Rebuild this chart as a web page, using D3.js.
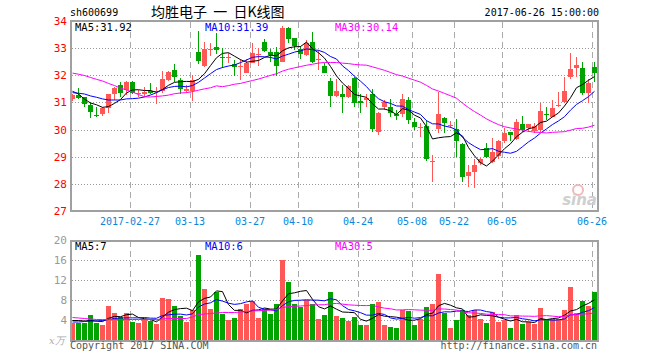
<!DOCTYPE html>
<html><head><meta charset="utf-8">
<script src="https://cdn.jsdelivr.net/npm/d3@7/dist/d3.min.js"></script>
<style>
body{margin:0;background:#fff;}
svg{display:block;}
text{font-family:"DejaVu Sans Mono",monospace;font-size:10px;}
</style></head><body>
<svg id="chart" width="660" height="360"></svg>
<script>
const dates = [
"2017-02-13","2017-02-14","2017-02-15","2017-02-16","2017-02-17",
"2017-02-20","2017-02-21","2017-02-22","2017-02-23","2017-02-24",
"2017-02-27","2017-02-28","2017-03-01","2017-03-02","2017-03-03",
"2017-03-06","2017-03-07","2017-03-08","2017-03-09","2017-03-10",
"2017-03-13","2017-03-14","2017-03-15","2017-03-16","2017-03-17",
"2017-03-20","2017-03-21","2017-03-22","2017-03-23","2017-03-24",
"2017-03-27","2017-03-28","2017-03-29","2017-03-30","2017-03-31",
"2017-04-05","2017-04-06","2017-04-07",
"2017-04-10","2017-04-11","2017-04-12","2017-04-13","2017-04-14",
"2017-04-17","2017-04-18","2017-04-19","2017-04-20","2017-04-21",
"2017-04-24","2017-04-25","2017-04-26","2017-04-27","2017-04-28",
"2017-05-02","2017-05-03","2017-05-04","2017-05-05",
"2017-05-08","2017-05-09","2017-05-10","2017-05-11","2017-05-12","2017-05-15","2017-05-16",
"2017-05-22","2017-05-23","2017-05-24","2017-05-25","2017-05-26",
"2017-05-31","2017-06-01","2017-06-02",
"2017-06-05","2017-06-06","2017-06-07","2017-06-08","2017-06-09",
"2017-06-12","2017-06-13","2017-06-14","2017-06-15","2017-06-16",
"2017-06-19","2017-06-20","2017-06-21","2017-06-22","2017-06-23",
"2017-06-26"];

const open = [31.13,31.27,31.19,30.90,30.55,30.59,30.81,31.32,31.63,31.46,
31.75,31.31,31.32,31.42,31.40,31.42,31.83,32.19,31.83,31.42,
31.43,32.85,32.34,32.93,33.05,32.66,32.62,32.42,32.30,32.10,
32.46,32.78,33.21,32.86,32.86,32.50,33.73,33.36,32.96,32.75,
33.21,32.57,32.34,31.79,31.24,31.31,31.19,31.89,31.05,31.09,
31.31,29.92,30.82,30.82,30.57,30.57,31.09,30.29,30.06,30.13,
28.81,30.03,30.44,30.12,30.01,29.47,28.30,28.44,28.76,29.31,
28.79,29.04,29.59,29.90,29.64,30.21,30.05,29.96,29.98,30.58,
30.48,30.88,31.03,31.92,32.26,32.26,31.34,32.29];
const high = [31.30,31.52,31.21,31.03,30.82,30.82,31.31,31.58,31.77,31.79,
31.79,31.46,31.58,31.73,31.58,32.17,32.17,32.43,31.89,31.64,
32.01,33.63,33.24,33.20,33.57,32.99,32.81,32.56,32.59,32.59,
33.20,32.99,33.32,32.96,33.03,33.82,33.77,33.36,33.08,33.30,
33.58,32.93,32.46,31.91,31.85,31.64,31.64,31.92,31.31,31.31,
31.48,30.65,31.09,31.11,30.72,31.31,31.21,30.41,30.23,30.35,
29.06,31.40,30.48,30.30,30.38,29.52,28.68,28.90,28.94,29.52,
29.68,29.62,30.05,29.92,30.38,30.50,30.21,30.23,30.99,30.82,
31.09,31.40,31.95,32.83,32.69,32.49,31.85,32.50];
const low = [31.07,31.14,30.82,30.44,30.48,30.50,30.62,31.09,31.19,31.29,
31.31,31.19,31.19,31.31,30.93,31.34,31.80,31.76,31.31,31.36,
31.06,32.40,32.32,32.71,32.78,32.26,32.46,31.97,31.83,32.07,
32.44,32.35,32.87,32.50,31.97,32.48,33.18,32.93,32.59,32.72,
32.44,32.19,32.07,30.82,31.19,30.62,31.15,30.82,30.60,30.82,
29.92,29.80,30.72,30.48,30.35,30.48,30.21,29.98,29.74,28.85,
28.08,29.86,29.89,30.05,28.98,28.08,27.87,27.83,28.69,28.94,
28.76,28.92,29.52,29.59,29.62,29.92,29.90,29.86,29.92,30.35,
30.45,30.82,30.99,31.85,31.92,31.27,30.99,31.76];
const close = [31.27,31.17,30.93,30.66,30.54,30.79,31.31,31.53,31.36,31.75,
31.35,31.35,31.38,31.36,31.43,31.86,32.13,31.92,31.48,31.48,
31.83,32.54,32.96,32.97,32.93,32.64,32.66,32.32,32.33,32.46,
32.81,32.80,32.89,32.74,32.35,33.73,33.34,33.09,32.78,33.18,
32.50,32.60,32.10,31.25,31.43,31.19,31.61,30.99,30.97,31.18,
30.02,30.62,31.00,30.62,30.50,31.11,30.35,30.08,30.09,28.90,
28.85,30.57,30.23,30.16,29.59,28.27,28.44,28.70,28.90,28.98,
29.16,29.58,29.86,29.80,30.29,29.98,30.21,30.13,30.70,30.53,
30.78,30.91,31.42,32.22,32.38,31.36,31.70,32.10];
const volume = [3.5,3.5,3.5,5.0,3.4,3.0,6.8,5.4,4.7,5.4,
3.6,3.4,4.2,3.8,3.2,8.4,8.2,6.8,4.8,3.6,
6.0,17.0,10.2,6.2,9.7,5.3,4.0,4.4,6.3,7.2,
7.8,4.4,6.3,5.2,7.2,16.0,11.6,7.2,6.7,8.0,
7.2,4.2,5.0,9.6,4.8,4.4,3.9,4.6,3.0,3.0,
7.2,7.6,3.0,2.6,2.4,6.0,5.8,3.0,4.2,6.6,
7.2,13.2,5.4,2.4,4.0,6.0,5.0,6.0,4.2,3.4,
5.6,3.6,4.0,2.4,5.0,3.2,3.6,3.2,6.4,4.0,
4.2,4.2,6.0,10.6,5.4,7.8,6.8,9.6];

// moving-average values at the left edge (their history lies before the window)
const ma5Head = [31.41,31.31,31.12,30.98];
const ma10Head = [31.36,31.34,31.31,31.24,31.19,31.13,31.09,31.09,31.09];
const ma30Head = [32.08,32.04,31.99,31.92,31.85,31.79,31.70,31.62,31.53,31.46,
31.38,31.29,31.21,31.20,31.22,31.24,31.27,31.32,31.35,31.36,
31.40,31.45,31.50,31.54,31.61,31.58,31.62,31.67,31.70];
const vma5Head = [3.9,3.9,3.8,3.9];
const vma10Head = [3.6,3.6,3.7,3.8,3.8,3.9,4.1,4.3,4.4];
const vma30Head = [4.5,4.4,4.3,4.2,4.1,4.1,4.1,4.1,4.1,4.1,
4.1,4.1,4.1,4.1,4.1,4.2,4.3,4.3,4.3,4.3,
4.6,5.1,5.2,5.3,5.4,5.5,5.5,5.5,5.6];

const priceTicks = [27,28,29,30,31,32,33,34];
const volTicks = [4,8,12,16,20];
const dateTicks = ["2017-02-27","2017-03-13","2017-03-27","2017-04-10","2017-04-24","2017-05-08","2017-05-22","2017-06-05","2017-06-26"];
const dateTickLabels = ["2017-02-27","03-13","03-27","04-10","04-24","05-08","05-22","06-05","06-26"];

const stockCode = "sh600699";
const title = "均胜电子 一 日K线图";
const stamp = "2017-06-26 15:00:00";
const priceLegend = ["MA5:31.92","MA10:31.39","MA30:30.14"];
const volLegend = ["MA5:7","MA10:6","MA30:5"];

const RED = "#ff5656", GREEN = "#00a300";
const MA_COLORS = ["#000000","#0000ff","#ff00ff"];

function movingAvg(vals, n, head){
  return vals.map((v,i)=>{
    if(i < n-1) return head[i];
    let s = 0; for(let k=i-n+1;k<=i;k++) s += vals[k];
    return s/n;
  });
}

const svg = d3.select("#chart");
const L = 70, R = 597;
const x = d3.scaleBand().domain(dates).range([L, R]).paddingInner(1/6).paddingOuter(0);
const bw = x.bandwidth();
const y = d3.scaleLinear().domain([27,34]).range([211,21]);
const vy = d3.scaleLinear().domain([0,20]).range([340,240]);
const cx = d => x(d) + bw/2;

// header
svg.append("text").attr("x",70).attr("y",16).attr("fill","#000").text(stockCode);
svg.append("text").attr("x",151).attr("y",17).attr("fill","#000")
  .style("font-family","'Noto Sans CJK SC',sans-serif").style("font-size","14px").attr("xml:space","preserve")
  .style("white-space","pre").text(title.replace(/ /g,"  "));
svg.append("text").attr("x",599).attr("y",16).attr("text-anchor","end").attr("fill","#000").text(stamp);

function panel(yScale, ticks, top, bottom){
  const g = svg.append("g");
  g.selectAll("line.h").data(ticks.filter(t=>yScale(t)>top+2 && yScale(t)<bottom-2)).join("line")
    .attr("x1",L+2).attr("x2",R).attr("y1",d=>Math.round(yScale(d))+0.5).attr("y2",d=>Math.round(yScale(d))+0.5)
    .attr("stroke","#999").attr("stroke-dasharray","1,2");
  g.selectAll("line.v").data(dateTicks).join("line")
    .attr("x1",d=>x(d)+0.5).attr("x2",d=>x(d)+0.5).attr("y1",top+1).attr("y2",bottom)
    .attr("stroke","#aaa").attr("stroke-dasharray","6,4");
  return g;
}
panel(y, priceTicks, 21, 211);
panel(vy, volTicks, 240, 341);

// price axis labels
const ya = svg.append("g").attr("transform",`translate(${L},0)`)
  .call(d3.axisLeft(y).tickValues(priceTicks).tickSize(0).tickPadding(3).tickFormat(d3.format("d")));
ya.select(".domain").remove();
ya.selectAll("text").attr("fill","#ff0000").style("font-family","'DejaVu Sans Mono',monospace").style("font-size","11px");

// volume axis labels
const va = svg.append("g").attr("transform",`translate(${L},0)`)
  .call(d3.axisLeft(vy).tickValues(volTicks).tickSize(0).tickPadding(3).tickFormat(d3.format("d")));
va.select(".domain").remove();
va.selectAll("text").attr("fill","#999").style("font-family","'DejaVu Sans Mono',monospace").style("font-size","11px");

// date axis
const xa = svg.append("g").attr("transform",`translate(${-bw/2},211)`)
  .call(d3.axisBottom(x).tickValues(dateTicks).tickSize(0).tickPadding(7)
    .tickFormat(d=>dateTickLabels[dateTicks.indexOf(d)]));
xa.select(".domain").remove();
xa.selectAll("text").attr("fill","#0a86d8").style("font-family","'DejaVu Sans Mono',monospace").style("font-size","10px");

// watermark
const wm = svg.append("g");
wm.append("circle").attr("cx",578).attr("cy",190).attr("r",5).attr("fill","none").attr("stroke","#f4b8b8").attr("stroke-width",2);
wm.append("text").attr("x",597).attr("y",205).attr("text-anchor","end")
  .style("font-family","'DejaVu Sans',sans-serif").style("font-size","15px").style("font-style","italic").style("font-weight","bold")
  .attr("fill","#cfcfcf").text("sina");

// candles
const cg = svg.append("g");
dates.forEach((d,i)=>{
  const o=open[i], c=close[i], h=high[i], l=low[i];
  const col = c >= o ? RED : GREEN;
  cg.append("line").attr("x1",cx(d)).attr("x2",cx(d))
    .attr("y1",Math.round(y(h))).attr("y2",Math.round(y(l))).attr("stroke",col).attr("stroke-width",1);
  const yt = Math.round(y(Math.max(o,c))), yb = Math.round(y(Math.min(o,c)));
  cg.append("rect").attr("x",x(d)).attr("y",yt).attr("width",bw).attr("height",Math.max(1,yb-yt))
    .attr("fill",col).attr("shape-rendering","crispEdges");
});

// volume bars
svg.append("g").selectAll("rect").data(dates).join("rect")
  .attr("x",d=>x(d)).attr("width",bw)
  .attr("y",(d,i)=>Math.round(vy(volume[i]))).attr("height",(d,i)=>340-Math.round(vy(volume[i])))
  .attr("fill",(d,i)=>close[i]>=open[i]?RED:GREEN).attr("shape-rendering","crispEdges");

// MA lines
const pMAs = [movingAvg(close,5,ma5Head), movingAvg(close,10,ma10Head), movingAvg(close,30,ma30Head)];
const vMAs = [movingAvg(volume,5,vma5Head), movingAvg(volume,10,vma10Head), movingAvg(volume,30,vma30Head)];
const pline = d3.line().x((v,i)=>cx(dates[i])).y(v=>y(v));
const vline = d3.line().x((v,i)=>cx(dates[i])).y(v=>vy(v));
pMAs.forEach((arr,k)=> svg.append("path").attr("d",pline(arr)).attr("fill","none").attr("stroke",MA_COLORS[k]).attr("stroke-width",1));
vMAs.forEach((arr,k)=> svg.append("path").attr("d",vline(arr)).attr("fill","none").attr("stroke",MA_COLORS[k]).attr("stroke-width",1));

// frames
svg.append("rect").attr("x",71).attr("y",21).attr("width",527).attr("height",190)
  .attr("fill","none").attr("stroke","#a0a0a0").attr("stroke-width",2);
svg.append("rect").attr("x",71).attr("y",241).attr("width",527).attr("height",100)
  .attr("fill","none").attr("stroke","#a0a0a0").attr("stroke-width",2);

// legends
const lx = [75,205,335];
priceLegend.forEach((t,k)=> svg.append("text").attr("x",lx[k]).attr("y",31).attr("fill",MA_COLORS[k]).style("font-size","10.5px").text(t));
volLegend.forEach((t,k)=> svg.append("text").attr("x",lx[k]).attr("y",250).attr("fill",MA_COLORS[k]).style("font-size","10.5px").text(t));

// footer
svg.append("text").attr("x",49).attr("y",344).attr("fill","#aaa")
  .style("font-family","'DejaVu Serif',serif").style("font-style","italic").style("font-size","10px").text("x万");
svg.append("text").attr("x",70).attr("y",349).attr("fill","#555").text("Copyright 2017 SINA.COM");
svg.append("text").attr("x",597).attr("y",349).attr("text-anchor","end").attr("fill","#555").text("http://finance.sina.com.cn");
</script>
</body></html>
